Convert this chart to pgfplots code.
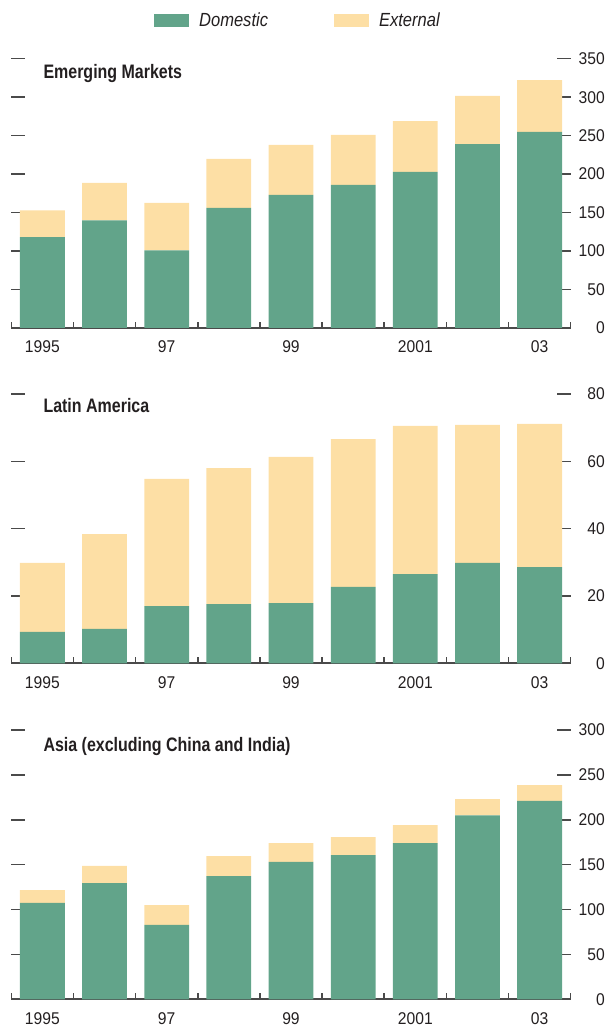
\documentclass[border=0pt]{standalone}
\usepackage{fontspec}
\setmainfont{Liberation Sans}
\newfontfamily\titlefont[FakeStretch=0.82]{Liberation Sans}
\newfontfamily\legfont[FakeStretch=0.87]{Liberation Sans}
\newfontfamily\tickfont[FakeStretch=0.92]{Liberation Sans}
\usepackage{pgfplots}
\usepackage{pgfplotstable}
\pgfplotsset{compat=1.18}
\definecolor{dom}{HTML}{62A48A}
\definecolor{ext}{HTML}{FDDFA5}
\definecolor{txt}{HTML}{231F20}
\definecolor{axc}{HTML}{4A4A4A}

\pgfplotstableread{
x dom ext
0 118 35
1 140 48.5
2 101 61.5
3 156 63.7
4 173 65
5 186 65
6 203 66
7 239 62.6
8 255 67
}\emerging
\pgfplotstableread{
x dom ext
0 9.3 20.5
1 10.2 28.2
2 17.0 37.8
3 17.6 40.4
4 17.9 43.4
5 22.7 43.9
6 26.5 44.0
7 29.8 41.0
8 28.6 42.5
}\latam
\pgfplotstableread{
x dom ext
0 107.3 14.4
1 129.5 19.0
2 82.8 22.2
3 137.3 22.3
4 153 21.0
5 160.7 20.1
6 174 20.0
7 205 18.0
8 221 17.7
}\asia

\pgfplotsset{panel/.style={
  scale only axis, width=559.4pt, height=269.3pt, anchor=south west,
  ybar stacked, bar width=44.8pt,
  xmin=-0.5, xmax=8.5, ymin=0,
  axis line style={draw=none},
  clip=false,
  tick align=inside,
  xtick pos=bottom, ytick pos=both, yticklabel pos=right,
  xtick={0,2,4,6,8}, xticklabels={1995,97,99,2001,03},
  minor xtick={-0.5,0.5,...,8.5},
  major x tick style={draw=none},
  minor x tick style={axc, line width=1.5pt},
  minor tick length=6pt,
  major tick length=14pt,
  ytick style={axc, line width=1.5pt},
  tick label style={font=\tickfont\fontsize{17}{18}\selectfont, text=txt},
  /pgf/number format/assume math mode=true,
  xticklabel style={anchor=base, yshift=-25pt},
  yticklabel style={anchor=east, inner sep=0pt, xshift=34.3pt},
}}

\begin{document}
\begin{tikzpicture}
\path[use as bounding box] (0,0) rectangle (607pt,1026pt);

\begin{axis}[panel, at={(11.3pt,698pt)}, ymax=350, ytick={0,50,...,350},
  legend style={at={(rel axis cs:0.255,1.141)}, anchor=west, draw=none, fill=none,
    legend columns=2, inner sep=0pt, font=\legfont\itshape\fontsize{19}{20}\selectfont, text=txt,
    /tikz/every odd column/.append style={column sep=10pt},
    /tikz/every even column/.append style={column sep=66pt},
    nodes={inner sep=0pt}},
  every axis plot post/.append style={legend image code/.code={\fill[##1] (0pt,-6.7pt) rectangle (35pt,6.7pt);}},
]
\addplot[fill=dom, draw=none] table[x=x, y=dom] {\emerging};
\addplot[fill=ext, draw=none] table[x=x, y=ext] {\emerging};
\legend{Domestic, External}
\draw[axc, line width=2pt] (rel axis cs:0,0) -- (rel axis cs:1,0);
\node[anchor=base west, inner sep=0pt, text=txt, font=\titlefont\bfseries\fontsize{19.5}{20}\selectfont, xshift=32pt, yshift=-20pt] at (rel axis cs:0,1) {Emerging Markets};
\end{axis}

\begin{axis}[panel, at={(11.3pt,362.7pt)}, ymax=80, ytick={0,20,...,80}]
\addplot[fill=dom, draw=none] table[x=x, y=dom] {\latam};
\addplot[fill=ext, draw=none] table[x=x, y=ext] {\latam};
\draw[axc, line width=2pt] (rel axis cs:0,0) -- (rel axis cs:1,0);
\node[anchor=base west, inner sep=0pt, text=txt, font=\titlefont\bfseries\fontsize{19.5}{20}\selectfont, xshift=32pt, yshift=-18.5pt] at (rel axis cs:0,1) {Latin America};
\end{axis}

\begin{axis}[panel, at={(11.3pt,26.7pt)}, ymax=300, ytick={0,50,...,300}]
\addplot[fill=dom, draw=none] table[x=x, y=dom] {\asia};
\addplot[fill=ext, draw=none] table[x=x, y=ext] {\asia};
\draw[axc, line width=2pt] (rel axis cs:0,0) -- (rel axis cs:1,0);
\node[anchor=base west, inner sep=0pt, text=txt, font=\titlefont\bfseries\fontsize{19.5}{20}\selectfont, xshift=32pt, yshift=-22pt] at (rel axis cs:0,1) {Asia (excluding China and India)};
\end{axis}
\end{tikzpicture}
\end{document}
